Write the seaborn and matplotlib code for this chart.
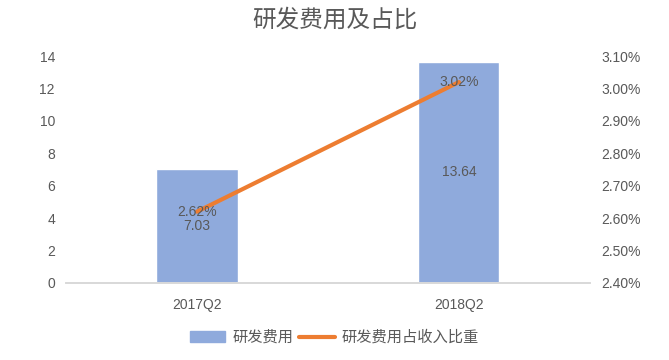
import pandas as pd
import matplotlib.pyplot as plt
import seaborn as sns
from matplotlib.patches import Patch
from matplotlib.lines import Line2D
from matplotlib.ticker import FuncFormatter

# data
quarters = ['2017Q2', '2018Q2']
rd_cost = [7.03, 13.64]
rd_ratio = [2.62, 3.02]  # percent
left_ticks = [0, 2, 4, 6, 8, 10, 12, 14]
right_ticks = [2.40, 2.50, 2.60, 2.70, 2.80, 2.90, 3.00, 3.10]

df = pd.DataFrame({'quarter': quarters, 'cost': rd_cost, 'ratio': rd_ratio})

sns.set_theme(style='white')
plt.rcParams['font.family'] = ['Liberation Sans', 'Noto Sans CJK SC', 'DejaVu Sans']

text_color = '#595959'
bar_color = '#8FAADC'
line_color = '#ED7D31'

fig = plt.figure(figsize=(6.69, 3.6), dpi=100)
ax = fig.add_axes([0.0987, 0.214, 0.783, 0.630])

sns.barplot(data=df, x='quarter', y='cost', color=bar_color, width=0.31,
            saturation=1, ax=ax)
ax.set_ylim(0, 14)
ax.set_yticks(left_ticks)
ax.set_xlim(-0.5, 1.5)
ax.set_xlabel('')
ax.set_ylabel('')

for i, v in enumerate(rd_cost):
    ax.text(i, v / 2, f'{v:.2f}', ha='center', va='center', fontsize=10, color=text_color)

ax2 = ax.twinx()
sns.lineplot(x=[0, 1], y=df['ratio'], color=line_color, linewidth=3, ax=ax2)
ax2.set_ylim(2.40, 3.10)
ax2.set_yticks(right_ticks)
ax2.yaxis.set_major_formatter(FuncFormatter(lambda v, p: f'{v:.2f}%'))
ax2.set_ylabel('')
for i, v in enumerate(rd_ratio):
    ax2.text(i, v, f'{v:.2f}%', ha='center', va='center', fontsize=10, color=text_color)

for a in (ax, ax2):
    for s in ['top', 'left', 'right']:
        a.spines[s].set_visible(False)
    a.spines['bottom'].set_color('#D9D9D9')
    a.tick_params(axis='both', length=0, labelsize=10, colors=text_color)

ax.tick_params(axis='y', pad=8)
ax2.tick_params(axis='y', pad=8)
ax.tick_params(axis='x', pad=11)

fig.suptitle('研发费用及占比', y=0.975, fontsize=17, color=text_color)

handles = [Patch(facecolor=bar_color, edgecolor=bar_color),
           Line2D([0], [0], color=line_color, linewidth=3)]
fig.legend(handles, ['研发费用', '研发费用占收入比重'], loc='center',
           bbox_to_anchor=(0.5, 0.062), ncol=2, frameon=False, fontsize=11,
           labelcolor=text_color, handlelength=2.3, columnspacing=0.4, handletextpad=0.45)

fig.savefig('out.png', dpi=100)
